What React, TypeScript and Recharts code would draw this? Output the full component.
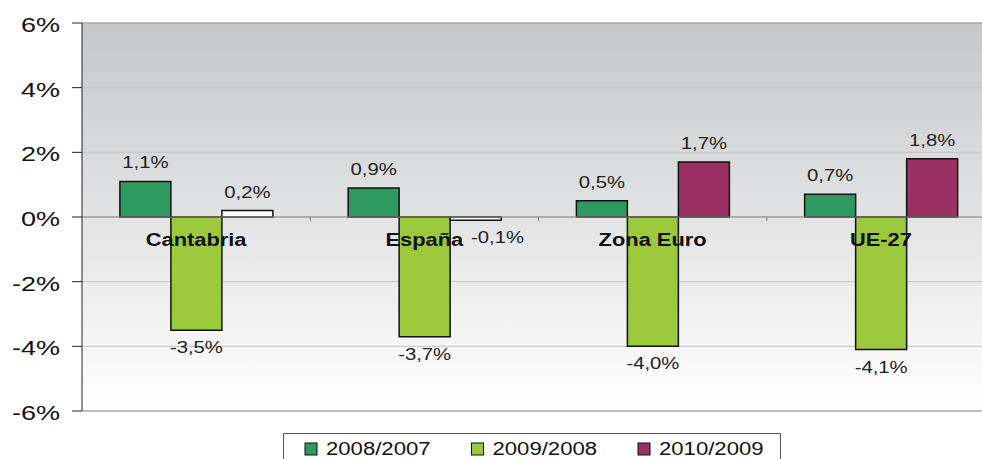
import { Bar, BarChart, CartesianGrid, Cell, LabelList, ReferenceLine, XAxis, YAxis } from "recharts"

const categories = ['Cantabria', 'España', 'Zona Euro', 'UE-27']
const serie2008 = [1.1, 0.9, 0.5, 0.7]
const serie2009 = [-3.5, -3.7, -4.0, -4.1]
const serie2010 = [0.2, -0.1, 1.7, 1.8]
const seriesNames = ['2008/2007', '2009/2008', '2010/2009']
const yTicks = [-6, -4, -2, 0, 2, 4, 6]
// 2010/2009 figures for Cantabria and España are drawn as hollow bars
const hollow2010 = [true, true, false, false]

const colors = ['#2e9a62', '#9bc93b', '#9b3163']
const FONT = '"Liberation Sans", Arial, Helvetica, sans-serif'

const data = categories.map((name, i) => ({
  name,
  s1: serie2008[i],
  s2: serie2009[i],
  s3: serie2010[i],
}))

const fmt = (v: number) => v.toFixed(1).replace('.', ',') + '%'

const ValueLabel = (props: any) => {
  const x = Number(props.x), y = Number(props.y)
  const w = Number(props.width), h = Number(props.height)
  const v = Number(props.value)
  const top = Math.min(y, y + h)
  const bottom = Math.max(y, y + h)
  let cx = x + w / 2
  const by = v >= 0 ? top - 13 : bottom + 23
  if (v < 0 && Math.abs(v) < 0.5) cx += w * 0.43 // tiny negative bar: label pushed aside
  return (
    <g transform={`translate(${cx},${by}) scale(1.27,1)`}>
      <text textAnchor="middle" fontSize={16} fill="#222" fontFamily={FONT}>{fmt(v)}</text>
    </g>
  )
}

const YTick = (props: any) => {
  const { x, y, payload } = props
  return (
    <g transform={`translate(${x},${y + 9}) scale(1.35,1)`}>
      <text textAnchor="end" fontSize={20} fill="#111" fontFamily={FONT}>{payload.value}%</text>
    </g>
  )
}

const CategoryLabels = (props: any) => {
  const vb = props.viewBox
  if (!vb) return null
  const band = vb.width / categories.length
  return (
    <g>
      {categories.map((c, i) => (
        <g key={c}>
          {i > 0 && (
            <line x1={vb.x + band * i} x2={vb.x + band * i} y1={vb.y} y2={vb.y + 4} stroke="#777" />
          )}
          <g transform={`translate(${vb.x + band * (i + 0.5)},${vb.y + 29}) scale(1.15,1)`}>
            <text textAnchor="middle" fontSize={19} fontWeight="bold" fill="#111" fontFamily={FONT}>{c}</text>
          </g>
        </g>
      ))}
    </g>
  )
}

const LegendBox = () => (
  <svg width={982} height={459} style={{ position: 'absolute', left: 0, top: 0, pointerEvents: 'none' }}>
    <rect x={283.5} y={433.5} width={497} height={40} fill="#fff" stroke="#555" />
    {seriesNames.map((n, i) => {
      const sx = 305 + i * 166.5
      return (
        <g key={n}>
          <rect x={sx} y={443} width={12} height={12} fill={colors[i]} stroke="#111" />
          <g transform={`translate(${sx + 21},${455}) scale(1.23,1)`}>
            <text fontSize={18} fill="#111" fontFamily={FONT}>{n}</text>
          </g>
        </g>
      )
    })}
  </svg>
)

export default function App() {
  return (
    <div style={{ position: 'absolute', left: 0, top: 0, width: 982, height: 459, overflow: 'hidden', background: '#fff' }}>
      {/* plot area runs past the right edge of the picture, as in the original */}
      <BarChart
        width={995}
        height={459}
        data={data}
        margin={{ top: 23, right: 0, bottom: 48, left: 0 }}
        barGap={0}
        barCategoryGap="16.6%"
      >
        <defs>
          <linearGradient id="plotBg" x1="0" y1="0" x2="0" y2="1">
            <stop offset="0%" stopColor="#c6c7c9" />
            <stop offset="100%" stopColor="#ffffff" />
          </linearGradient>
        </defs>
        <CartesianGrid vertical={false} stroke="#c2c2c2" fill="url(#plotBg)" fillOpacity={1} />
        <XAxis dataKey="name" hide />
        <YAxis
          width={82}
          domain={[-6, 6]}
          ticks={yTicks}
          interval={0}
          tickSize={10}
          tickMargin={12}
          tick={<YTick />}
          axisLine={{ stroke: '#222' }}
          tickLine={{ stroke: '#222' }}
        />
        <ReferenceLine y={6} stroke="#9a9a9a" />
        <ReferenceLine y={-6} stroke="#9a9a9a" />
        <ReferenceLine y={0} stroke="#8a8a8a" />
        <Bar dataKey="s1" name={seriesNames[0]} fill={colors[0]} stroke="#111" strokeWidth={1.5} isAnimationActive={false}>
          <LabelList dataKey="s1" content={<ValueLabel />} />
        </Bar>
        <Bar dataKey="s2" name={seriesNames[1]} fill={colors[1]} stroke="#111" strokeWidth={1.5} isAnimationActive={false}>
          <LabelList dataKey="s2" content={<ValueLabel />} />
        </Bar>
        <Bar dataKey="s3" name={seriesNames[2]} fill={colors[2]} stroke="#111" strokeWidth={1.5} isAnimationActive={false}>
          {data.map((_, i) => (
            <Cell key={`c3-${i}`} fill={hollow2010[i] ? '#ffffff' : colors[2]} />
          ))}
          <LabelList dataKey="s3" content={<ValueLabel />} />
        </Bar>
        <ReferenceLine y={0} stroke="none" label={(p: any) => <CategoryLabels {...p} />} />
      </BarChart>
      <LegendBox />
    </div>
  )
}
